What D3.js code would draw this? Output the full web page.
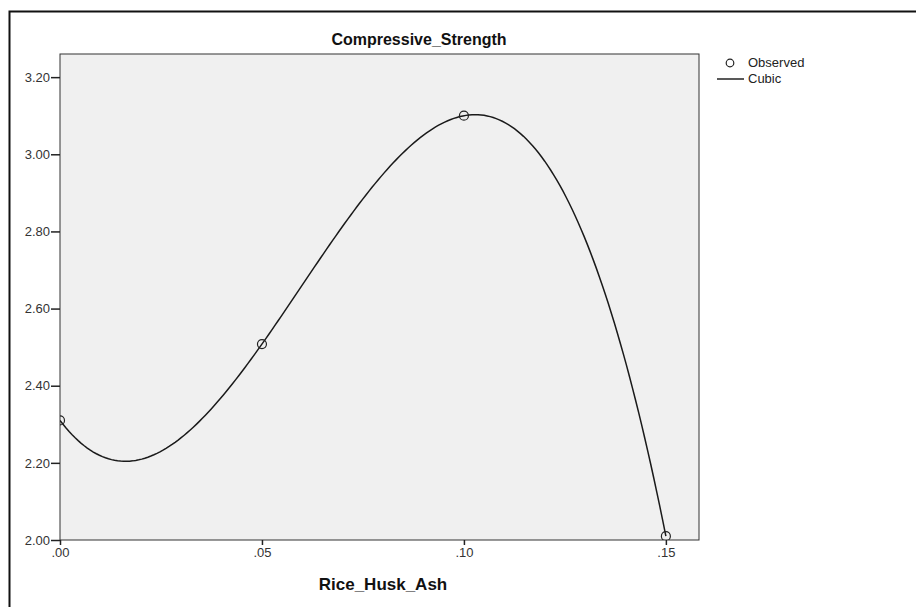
<!DOCTYPE html>
<html>
<head>
  <meta charset="utf-8" />
  <style>
    body { margin: 0; background: #fff; }
    text { font-family: "Liberation Sans", Arial, sans-serif; }
    .axis path, .axis line { stroke: #222; }
    .axis text { fill: #333; font-size: 13px; }
  </style>
</head>
<body>
  <svg id="container" width="916" height="607"></svg>
  <script src="https://cdn.jsdelivr.net/npm/d3@7/dist/d3.min.js"></script>
<script>
var riceHuskAsh = [0.00, 0.05, 0.10, 0.15];
var strength = [2.31, 2.508, 3.10, 2.01];

var xTicks = [0.00, 0.05, 0.10, 0.15];
var xTickLabels = ['.00', '.05', '.10', '.15'];
var yTicks = [2.00, 2.20, 2.40, 2.60, 2.80, 3.00, 3.20];

var svg = d3.select('#container');
var plot = {left: 60, top: 54, right: 699, bottom: 540};

var x = d3.scaleLinear().domain([0, 0.1582]).range([plot.left, plot.right]);
var y = d3.scaleLinear().domain([2.0, 3.26]).range([plot.bottom, plot.top]);

// cubic least-squares fit of the observed points (what the "Cubic" line is)
function cubicFit(xs, ys) {
  var n = 4, A = [], i, j, k;
  for (i = 0; i < n; i++) {
    A.push([]);
    for (j = 0; j < n; j++) A[i].push(d3.sum(xs, function (v) { return Math.pow(v, i + j); }));
    A[i].push(d3.sum(xs, function (v, idx) { return Math.pow(v, i) * ys[idx]; }));
  }
  for (i = 0; i < n; i++) {
    var p = i;
    for (k = i + 1; k < n; k++) if (Math.abs(A[k][i]) > Math.abs(A[p][i])) p = k;
    var tmp = A[i]; A[i] = A[p]; A[p] = tmp;
    for (k = i + 1; k < n; k++) {
      var f = A[k][i] / A[i][i];
      for (j = i; j <= n; j++) A[k][j] -= f * A[i][j];
    }
  }
  var b = new Array(n);
  for (i = n - 1; i >= 0; i--) {
    var s = A[i][n];
    for (j = i + 1; j < n; j++) s -= A[i][j] * b[j];
    b[i] = s / A[i][i];
  }
  return function (v) { return b[0] + b[1] * v + b[2] * v * v + b[3] * v * v * v; };
}
var fit = cubicFit(riceHuskAsh, strength);
var xMin = d3.min(riceHuskAsh), xMax = d3.max(riceHuskAsh);
var curve = d3.range(0, 201).map(function (i) {
  var v = xMin + (xMax - xMin) * i / 200;
  return {x: v, y: fit(v)};
});

// outer frame
svg.append('path')
  .attr('d', 'M9.5,607 V11.5 H916')
  .attr('fill', 'none')
  .attr('stroke', '#111')
  .attr('stroke-width', 2);

// plot background
svg.append('rect')
  .attr('x', plot.left).attr('y', plot.top)
  .attr('width', plot.right - plot.left).attr('height', plot.bottom - plot.top)
  .attr('fill', '#f0f0f0')
  .attr('stroke', '#333')
  .attr('stroke-width', 1);

svg.append('defs').append('clipPath').attr('id', 'clip')
  .append('rect')
  .attr('x', plot.left).attr('y', plot.top)
  .attr('width', plot.right - plot.left).attr('height', plot.bottom - plot.top);

var line = d3.line()
  .x(function (d) { return x(d.x); })
  .y(function (d) { return y(d.y); });

var g = svg.append('g').attr('clip-path', 'url(#clip)');
g.append('path')
  .datum(curve)
  .attr('d', line)
  .attr('fill', 'none')
  .attr('stroke', '#1a1a1a')
  .attr('stroke-width', 1.5);

g.selectAll('circle.obs')
  .data(riceHuskAsh)
  .enter().append('circle')
  .attr('class', 'obs')
  .attr('cx', function (d) { return x(d); })
  .attr('cy', function (d, i) { return y(strength[i]); })
  .attr('r', 4.5)
  .attr('fill', 'none')
  .attr('stroke', '#222')
  .attr('stroke-width', 1.2);

// axes
var yAxis = svg.append('g')
  .attr('class', 'axis')
  .attr('transform', 'translate(' + plot.left + ',0)')
  .call(d3.axisLeft(y).tickValues(yTicks).tickFormat(d3.format('.2f')).tickSizeOuter(0).tickSize(9).tickPadding(1));
yAxis.select('.domain').remove();
yAxis.selectAll('line').attr('stroke-width', 1.5);

var xAxis = svg.append('g')
  .attr('class', 'axis')
  .attr('transform', 'translate(0,' + plot.bottom + ')')
  .call(d3.axisBottom(x).tickValues(xTicks)
    .tickFormat(function (d, i) { return xTickLabels[i]; })
    .tickSizeOuter(0).tickSize(5).tickPadding(3));
xAxis.select('.domain').remove();
xAxis.selectAll('line').attr('stroke-width', 1.5);

// titles
svg.append('text')
  .attr('x', 419)
  .attr('y', 45)
  .attr('text-anchor', 'middle')
  .style('font-size', '16px')
  .style('font-weight', 'bold')
  .attr('fill', '#111')
  .text('Compressive_Strength');

svg.append('text')
  .attr('x', 383)
  .attr('y', 590)
  .attr('text-anchor', 'middle')
  .style('font-size', '17px')
  .style('font-weight', 'bold')
  .attr('fill', '#111')
  .text('Rice_Husk_Ash');

// legend
var legend = svg.append('g').attr('transform', 'translate(717,0)');
legend.append('circle')
  .attr('cx', 13).attr('cy', 63).attr('r', 3.8)
  .attr('fill', 'none').attr('stroke', '#222').attr('stroke-width', 1.2);
legend.append('text')
  .attr('x', 31).attr('y', 67)
  .style('font-size', '13px').attr('fill', '#222')
  .text('Observed');
legend.append('line')
  .attr('x1', 0).attr('x2', 27).attr('y1', 79).attr('y2', 79)
  .attr('stroke', '#222').attr('stroke-width', 1.5);
legend.append('text')
  .attr('x', 31).attr('y', 83)
  .style('font-size', '13px').attr('fill', '#222')
  .text('Cubic');
</script>
</body>
</html>
